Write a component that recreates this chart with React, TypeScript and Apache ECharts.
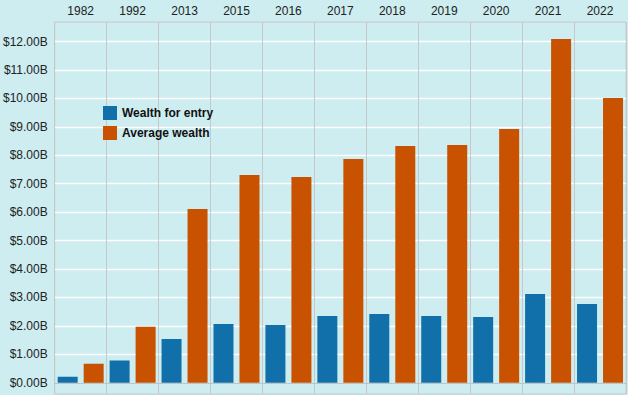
import React, { useEffect, useRef } from "react";
import * as echarts from "echarts";

const years = ["1982", "1992", "2013", "2015", "2016", "2017", "2018", "2019", "2020", "2021", "2022"];
const wealthForEntry = [0.21, 0.78, 1.54, 2.07, 2.03, 2.35, 2.42, 2.35, 2.31, 3.12, 2.77];
const averageWealth = [0.67, 1.97, 6.11, 7.31, 7.24, 7.87, 8.33, 8.36, 8.92, 12.09, 10.01];
const seriesNames = ["Wealth for entry", "Average wealth"];
const yMin = -0.394;
const yMax = 12.686;

export default function App() {
  const ref = useRef<HTMLDivElement>(null);
  useEffect(() => {
    if (!ref.current) return;
    const chart = echarts.init(ref.current, undefined, { renderer: "svg" });
    const font = "'Liberation Sans', Arial, sans-serif";
    const splitColors = ["rgba(0,0,0,0)"].concat(Array(12).fill("#ffffff"));
    chart.setOption({
      animation: false,
      backgroundColor: "#cdedf0",
      textStyle: { fontFamily: font },
      grid: {
        left: 54,
        right: 2,
        top: 22,
        bottom: 1,
        show: true,
        borderColor: "#c8c8c8",
        borderWidth: 1,
        backgroundColor: "transparent",
      },
      legend: {
        orient: "vertical",
        left: 103,
        top: 106,
        padding: 0,
        itemWidth: 14,
        itemHeight: 14,
        itemGap: 6,
        icon: "rect",
        textStyle: { fontSize: 12, fontWeight: "bold", color: "#111", fontFamily: font },
        data: seriesNames,
      },
      xAxis: {
        type: "category",
        position: "top",
        data: years,
        axisLine: { show: true, lineStyle: { color: "#c8c8c8", width: 1 } },
        axisTick: { show: true, length: 22, interval: 0, lineStyle: { color: "#c8c8c8", width: 1 } },
        splitLine: { show: true, interval: 0, lineStyle: { color: "#c8c8c8", width: 1 } },
        axisLabel: { interval: 0, margin: 5, fontSize: 12, color: "#222", fontFamily: font },
      },
      yAxis: {
        type: "value",
        min: yMin,
        max: yMax,
        splitNumber: 13,
        axisLine: { show: true, lineStyle: { color: "#c8c8c8", width: 1 } },
        axisTick: { show: false },
        splitLine: {
          show: true,
          showMinLine: false,
          showMaxLine: false,
          lineStyle: { color: splitColors, width: 1.3 },
        },
        axisLabel: {
          showMinLabel: false,
          showMaxLabel: false,
          margin: 7,
          fontSize: 12,
          color: "#222",
          fontFamily: font,
          formatter: (v: number) =>
            Math.abs(v - Math.round(v)) < 1e-6 ? "$" + v.toFixed(2) + "B" : "",
        },
      },
      series: [
        {
          name: seriesNames[0],
          type: "bar",
          data: wealthForEntry,
          barWidth: 20,
          barGap: "30%",
          itemStyle: { color: "#1170aa" },
          markLine: {
            silent: true,
            symbol: "none",
            label: { show: false },
            lineStyle: { color: "#a9bcc6", type: [1, 2], width: 1 },
            data: [{ yAxis: 0 }],
          },
        },
        {
          name: seriesNames[1],
          type: "bar",
          data: averageWealth,
          barWidth: 20,
          barGap: "30%",
          itemStyle: { color: "#c85200" },
        },
      ],
    });
    return () => chart.dispose();
  }, []);
  return (
    <div
      ref={ref}
      style={{ position: "fixed", left: 0, top: 0, width: 628, height: 395 }}
    />
  );
}
